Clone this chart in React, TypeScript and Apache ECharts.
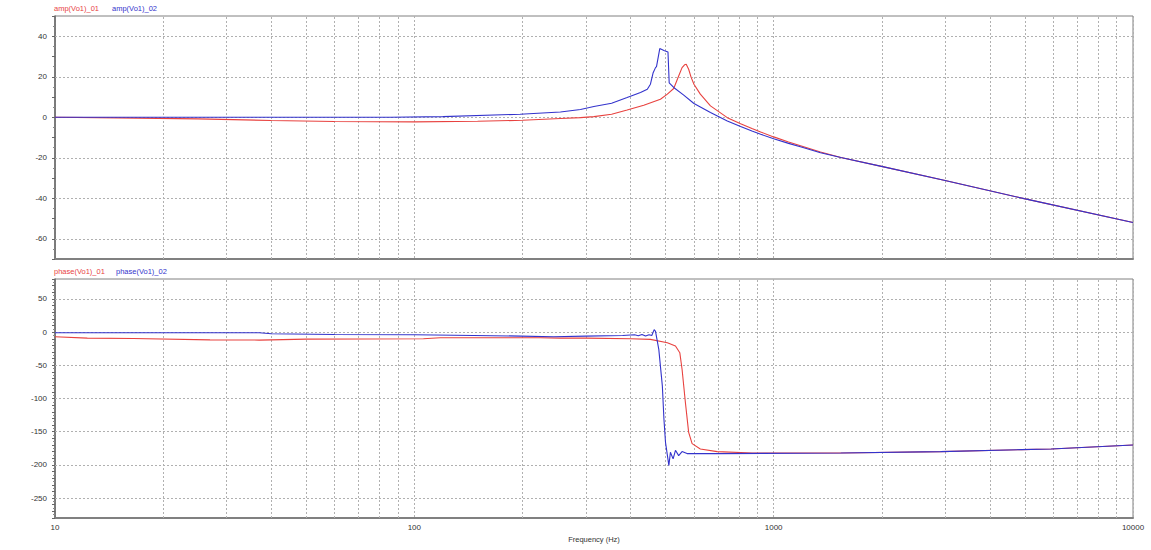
import React, { useEffect, useRef } from "react";
import * as echarts from "echarts";

// ---- Data ----
const freqAmp01 = [10, 15, 25, 40, 60, 100, 150, 200, 255, 290, 316, 354, 391, 435, 484, 506, 527, 544, 556, 565, 571, 580, 589, 600, 625, 667, 743, 809, 870, 920, 1000, 1100, 1200, 1350, 1538, 2010, 2979, 4977, 10000];
const amp01 = [0, -0.3, -0.8, -1.6, -2.1, -2.3, -2.0, -1.5, -0.6, -0.2, 0.3, 1.5, 3.6, 5.9, 8.9, 11.4, 14.2, 20.4, 24.5, 25.9, 26.2, 23.7, 19.8, 16.3, 11.4, 5.6, -0.2, -3.2, -5.6, -7.3, -9.7, -12.2, -14.3, -17.2, -19.9, -24.4, -31.1, -40.2, -52.0];

const freqAmp02 = [10, 50, 86, 120, 197, 255, 290, 316, 354, 391, 426, 445, 454, 462, 469, 472, 476, 482, 495, 508, 512, 527, 562, 600, 667, 743, 809, 870, 920, 1000, 1100, 1200, 1350, 1538, 2010, 2979, 4977, 10000];
const amp02 = [0, 0, 0, 0.3, 1.5, 2.6, 3.8, 5.3, 6.9, 9.7, 12.2, 13.8, 16.3, 22.0, 24.5, 25.0, 28.6, 33.9, 33.0, 32.2, 17.0, 14.7, 10.9, 6.8, 2.3, -1.8, -4.6, -6.8, -8.4, -10.6, -12.9, -14.8, -17.5, -19.9, -24.4, -31.1, -40.2, -52.0];

const freqPh01 = [10, 12.3, 16.5, 27, 37, 50, 106, 118, 224, 255, 300, 400, 454, 506, 533, 548, 556, 568, 580, 593, 625, 696, 873, 1538, 2917, 4900, 5917, 10000];
const phase01 = [-7, -9, -9.7, -11.7, -12, -10.5, -10, -8.5, -8.5, -9, -9, -10, -11, -16, -21, -31, -56, -106, -151, -168, -176, -180, -182, -182, -180, -177, -176, -170];

const freqPh02 = [10, 37, 40, 60, 100, 146, 197, 244, 300, 380, 410, 420, 430, 440, 450, 458, 465, 469, 479, 490, 495, 500, 511, 516, 525, 533, 544, 556, 574, 700, 1538, 2917, 4900, 5917, 10000];
const phase02 = [-1, -1, -2.5, -3.5, -4, -5, -6, -7, -6, -5, -4, -5.5, -3.5, -6, -4, -5, 3.7, 1.2, -26, -81, -131, -166, -201, -181, -191, -178, -186, -180, -183, -183, -182, -180, -177, -176, -170];

// Tick labels / grid values
const freqTicks = [10, 100, 1000, 10000];
const minorFreqs = [20, 30, 40, 50, 60, 70, 80, 90, 200, 300, 400, 500, 600, 700, 800, 900, 2000, 3000, 4000, 5000, 6000, 7000, 8000, 9000];
const ampTicks = [40, 20, 0, -20, -40, -60];
const phaseTicks = [50, 0, -50, -100, -150, -200, -250];

const seriesNames = ["amp(Vo1)_01", "amp(Vo1)_02", "phase(Vo1)_01", "phase(Vo1)_02"];
const RED = "#e8423f";
const BLUE = "#3333cc";

const zip = (xs: number[], ys: number[]) => xs.map((x, i) => [x, ys[i]]);

const gridLineStyle = { color: "#b0b0b0", type: [2, 2] as any, width: 1 };

function gridMarkLine(hVals: number[]) {
  return {
    silent: true,
    symbol: "none",
    z: 1,
    label: { show: false },
    lineStyle: gridLineStyle,
    emphasis: { disabled: true },
    data: [
      ...minorFreqs.map((f) => ({ xAxis: f })),
      ...hVals.map((v) => ({ yAxis: v })),
    ],
  };
}

const labelFont = { fontFamily: "Arial, 'Liberation Sans', sans-serif", fontSize: 8, color: "#333" };

function legendItem(name: string, color: string, left: number, top: number) {
  return {
    data: [{ name, textStyle: { color } }],
    left,
    top,
    padding: 0,
    itemWidth: 0,
    itemHeight: 0,
    icon: "rect",
    textStyle: { fontFamily: "Arial, 'Liberation Sans', sans-serif", fontSize: 7.5, color },
  };
}

export default function App() {
  const ref = useRef<HTMLDivElement>(null);
  useEffect(() => {
    if (!ref.current) return;
    const chart = echarts.init(ref.current, undefined, { renderer: "svg" });
    const xAxisBase = {
      type: "log" as const,
      logBase: 10,
      min: 10,
      max: 10000,
      axisLine: { show: true, onZero: false, lineStyle: { color: "#808080", width: 2 } },
      axisTick: { show: false },
      splitLine: { show: true, lineStyle: gridLineStyle },
      minorTick: { show: false },
      minorSplitLine: { show: false },
    };
    const yAxisBase = {
      type: "value" as const,
      interval: 10,
      axisLine: { show: true, onZero: false, lineStyle: { color: "#666", width: 1.5 } },
      axisTick: { show: true, length: 3, lineStyle: { color: "#666" } },
      minorTick: { show: true, splitNumber: 2, length: 2, lineStyle: { color: "#888" } },
      splitLine: { show: false },
    };
    chart.setOption({
      animation: false,
      backgroundColor: "#fff",
      legend: [
        legendItem(seriesNames[0], RED, 49, 4),
        legendItem(seriesNames[1], BLUE, 107, 4),
        legendItem(seriesNames[2], RED, 49, 267),
        legendItem(seriesNames[3], BLUE, 111, 267),
      ],
      grid: [
        { left: 55, right: 18, top: 16, height: 243, show: true, borderColor: "#808080", borderWidth: 1 },
        { left: 55, right: 18, top: 279, height: 239, show: true, borderColor: "#808080", borderWidth: 1 },
      ],
      xAxis: [
        { ...xAxisBase, gridIndex: 0, axisLabel: { show: false } },
        {
          ...xAxisBase,
          gridIndex: 1,
          name: "Frequency (Hz)",
          nameLocation: "middle",
          nameGap: 17,
          nameTextStyle: { fontFamily: "Arial, 'Liberation Sans', sans-serif", fontSize: 7.5, color: "#333" },
          axisLabel: {
            ...labelFont,
            margin: 5,
            formatter: (v: number) => (freqTicks.includes(Math.round(v)) ? String(Math.round(v)) : ""),
          },
        },
      ],
      yAxis: [
        {
          ...yAxisBase,
          gridIndex: 0,
          min: -70,
          max: 50,
          axisLabel: {
            ...labelFont,
            margin: 8,
            formatter: (v: number) => (ampTicks.includes(v) ? String(v) : ""),
          },
        },
        {
          ...yAxisBase,
          gridIndex: 1,
          min: -280,
          max: 80,
          axisLabel: {
            ...labelFont,
            margin: 8,
            formatter: (v: number) => (phaseTicks.includes(v) ? String(v) : ""),
          },
        },
      ],
      series: [
        {
          name: seriesNames[0],
          type: "line",
          xAxisIndex: 0,
          yAxisIndex: 0,
          data: zip(freqAmp01, amp01),
          showSymbol: false,
          symbol: "none",
          z: 2,
          color: RED,
          lineStyle: { color: RED, width: 1.1 },
          markLine: gridMarkLine(ampTicks),
        },
        {
          name: seriesNames[1],
          type: "line",
          xAxisIndex: 0,
          yAxisIndex: 0,
          data: zip(freqAmp02, amp02),
          showSymbol: false,
          symbol: "none",
          z: 3,
          color: BLUE,
          lineStyle: { color: BLUE, width: 1.1 },
        },
        {
          name: seriesNames[2],
          type: "line",
          xAxisIndex: 1,
          yAxisIndex: 1,
          data: zip(freqPh01, phase01),
          showSymbol: false,
          symbol: "none",
          z: 2,
          color: RED,
          lineStyle: { color: RED, width: 1.1 },
          markLine: gridMarkLine(phaseTicks),
        },
        {
          name: seriesNames[3],
          type: "line",
          xAxisIndex: 1,
          yAxisIndex: 1,
          data: zip(freqPh02, phase02),
          showSymbol: false,
          symbol: "none",
          z: 3,
          color: BLUE,
          lineStyle: { color: BLUE, width: 1.1 },
        },
      ],
    });
    return () => chart.dispose();
  }, []);
  return (
    <div
      ref={ref}
      style={{ position: "absolute", left: 0, top: 0, width: 1151, height: 550, background: "#fff" }}
    />
  );
}
